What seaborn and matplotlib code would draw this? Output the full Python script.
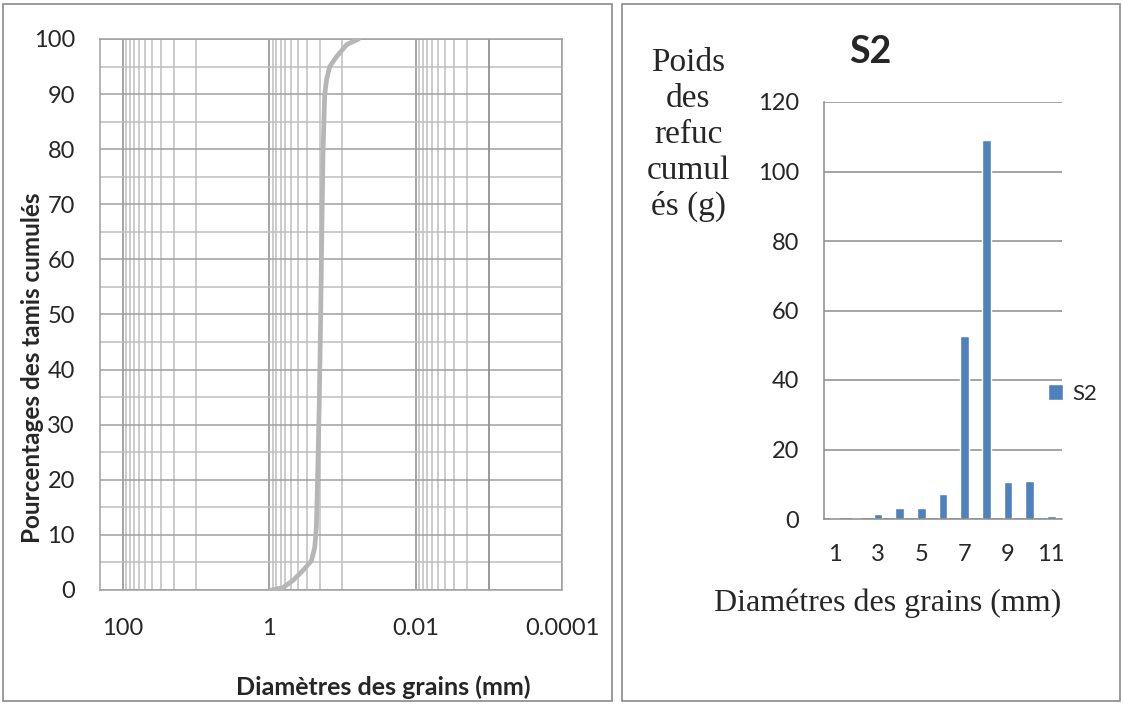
import numpy as np
import pandas as pd
import matplotlib
matplotlib.use("Agg")
import matplotlib.pyplot as plt
import matplotlib.ticker as mticker
from matplotlib.patches import Rectangle
import seaborn as sns

# courbe granulometrique
diametres = [0.933, 0.654, 0.477, 0.349, 0.265, 0.239, 0.227, 0.222, 0.207,
             0.198, 0.190, 0.184, 0.175, 0.165, 0.149, 0.120, 0.087, 0.060]
pourcentages = [0, 0.4, 1.7, 3.5, 5.3, 7.7, 11.4, 16.2, 34,
                50, 67.2, 79.4, 89.6, 92.6, 95.0, 96.8, 99.0, 100]
x_ticks_gauche = [100, 1, 0.01, 0.0001]

# poids des refus (histogramme S2)
tamis = [str(i) for i in range(1, 12)]
poids_refus = [0.2, 0.2, 1.3, 3.2, 3.2, 7.1, 52.7, 109.2, 10.6, 10.9, 1.0]
serie = "S2"

sns.set_style("white")
plt.rcParams['font.family'] = ['Lato', 'DejaVu Sans']
serif = ['Liberation Serif', 'DejaVu Serif']

W, H = 1123, 704
fig = plt.figure(figsize=(W / 100, H / 100), dpi=100)

# cadres des deux graphiques
for x0, x1 in [(3, 612), (622, 1120)]:
    fig.patches.append(Rectangle((x0 / W, 3 / H), (x1 - x0) / W, 697 / H,
                                 transform=fig.transFigure, fill=False,
                                 edgecolor='#8A8A8A', lw=1.2))

# ---- graphique de gauche : courbe granulometrique ----
ax1 = fig.add_axes([100 / W, 1 - 590 / H, 462 / W, 551 / H])
ax1.set_axisbelow(True)
sns.lineplot(x=diametres, y=pourcentages, ax=ax1, color='#B6B6B6', lw=3.4,
             sort=False, estimator=None, zorder=3)
ax1.set_xscale('log')
ax1.set_xlim(205, 1e-4)
ax1.set_ylim(0, 100)

minor_x = [s * 10.0 ** e for e in (1, -1, -3) for s in range(1, 10)]
ax1.xaxis.set_major_locator(mticker.FixedLocator(x_ticks_gauche))
ax1.xaxis.set_major_formatter(mticker.FuncFormatter(lambda v, p: f'{v:g}'))
ax1.xaxis.set_minor_locator(mticker.FixedLocator(minor_x))
ax1.xaxis.set_minor_formatter(mticker.NullFormatter())
ax1.yaxis.set_major_locator(mticker.MultipleLocator(10))
ax1.yaxis.set_minor_locator(mticker.MultipleLocator(5))

ax1.grid(which='major', axis='x', color='#8C8C8C', lw=1.1)
ax1.grid(which='minor', axis='x', color='#BEBEBE', lw=1.1)
ax1.grid(which='major', axis='y', color='#A0A0A0', lw=1.1)
ax1.grid(which='minor', axis='y', color='#BEBEBE', lw=1.1)
ax1.axvline(1e-3, color='#8C8C8C', lw=1.1, zorder=1)

ax1.tick_params(axis='x', which='major', length=8, width=1.1, color='#8C8C8C',
                direction='out', pad=12, labelsize=17)
ax1.tick_params(axis='x', which='minor', length=0)
ax1.tick_params(axis='y', which='both', length=0, pad=18, labelsize=17)
for s in ax1.spines.values():
    s.set_color('#A0A0A0')
    s.set_linewidth(1.1)

ax1.set_ylabel('Pourcentages des tamis cumulés', fontsize=17.5,
               fontweight='bold', va='center')
ax1.yaxis.set_label_coords(-0.147, 0.403)
ax1.set_xlabel('Diamètres des grains (mm)', fontsize=18,
               fontweight='bold', va='center')
ax1.xaxis.set_label_coords(0.613, -0.176)

# ---- graphique de droite : histogramme S2 ----
df = pd.DataFrame({'tamis': tamis, 'poids': poids_refus, 'serie': serie})
ax2 = fig.add_axes([824 / W, 1 - 519 / H, 238 / W, 417 / H])
ax2.set_axisbelow(True)
sns.barplot(data=df, x='tamis', y='poids', hue='serie', palette=['#4F81BD'],
            width=0.4, dodge=False, saturation=1, ax=ax2)
ax2.set_xlim(-0.5, 10.5)
ax2.set_ylim(0, 120)
ax2.yaxis.set_major_locator(mticker.MultipleLocator(20))
ax2.set_xticks(range(0, 11, 2))
ax2.set_xticklabels(tamis[::2])
ax2.set_xticks(np.arange(-0.5, 11, 1), minor=True)
ax2.grid(axis='y', color='#8C8C8C', lw=1.1)
ax2.tick_params(axis='x', which='major', length=0, pad=18, labelsize=17)
ax2.tick_params(axis='x', which='minor', length=6, width=1.1,
                color='#8C8C8C', direction='out')
ax2.tick_params(axis='y', length=7, width=1.1, color='#8C8C8C',
                direction='out', pad=11, labelsize=17)
sns.despine(ax=ax2)
for side in ('left', 'bottom'):
    ax2.spines[side].set_color('#8C8C8C')
    ax2.spines[side].set_linewidth(1.1)

ax2.legend(loc='center left', bbox_to_anchor=(0.94, 0.30), frameon=False,
           handlelength=0.7, handleheight=0.7, handletextpad=0.4,
           borderpad=0, borderaxespad=0, fontsize=16, title=None)

ax2.text(0.193, 1.121, serie, transform=ax2.transAxes, ha='center',
         va='center', fontweight='bold', fontsize=27)

ax2.set_ylabel('Poids\ndes\nrefuc\ncumul\nés (g)', rotation=0, ha='center',
               va='center', family=serif, fontsize=24, linespacing=1.23)
ax2.yaxis.set_label_coords(-0.571, 0.921)
ax2.set_xlabel('Diamétres des grains (mm)', family=serif, fontsize=23,
               va='center')
ax2.xaxis.set_label_coords(0.269, -0.201)

fig.savefig('out.png', dpi=100)
